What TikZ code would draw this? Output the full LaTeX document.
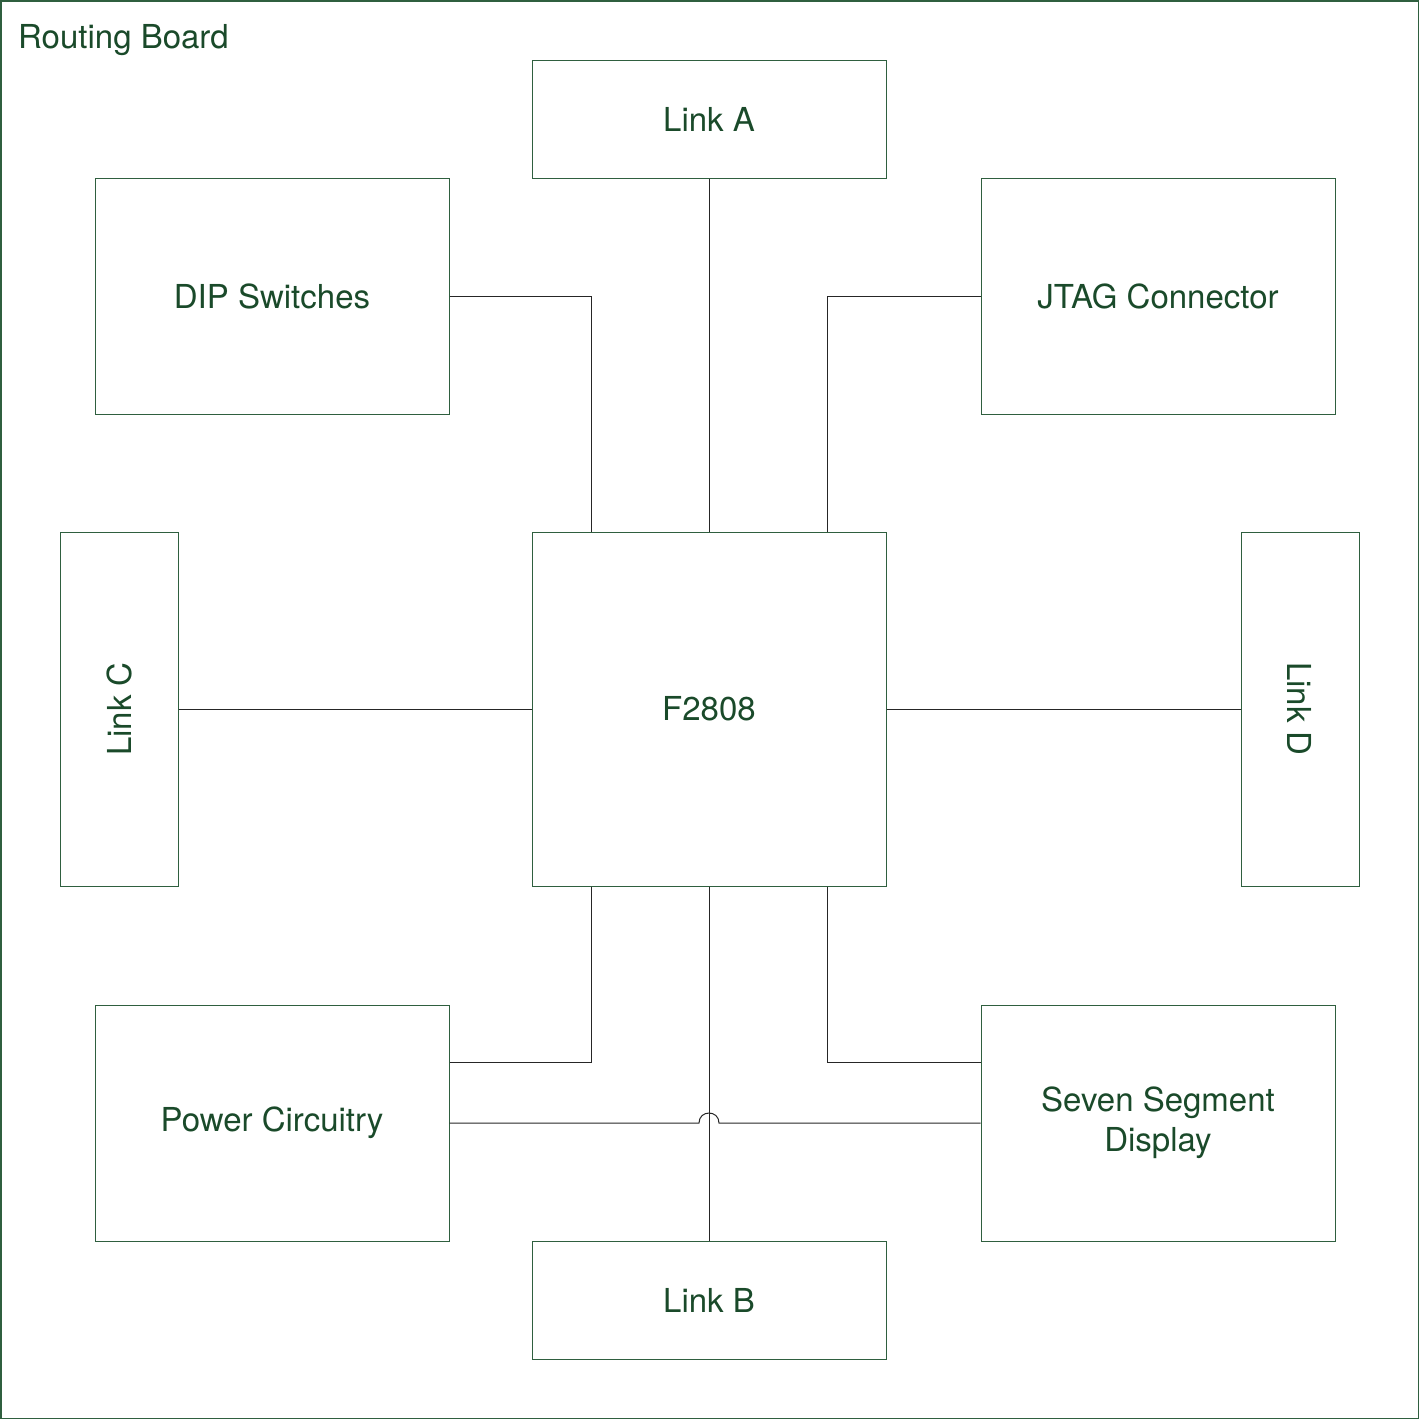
\documentclass[tikz,border=0pt]{standalone}
\usepackage{fontspec}
\usepackage{graphicx}
\setmainfont{TeX Gyre Heros}
\usetikzlibrary{calc}
\definecolor{txt}{HTML}{1A4A2A}
\definecolor{bd}{HTML}{2F5F3F}
\begin{document}
\begin{tikzpicture}[x=1pt,y=-1pt,
  blk/.style={draw=bd,line width=1pt,rectangle,inner sep=0pt,text=txt,
    font=\fontsize{33}{40}\selectfont,align=center},
  wide/.style={blk,minimum width=354pt,minimum height=236pt},
  flat/.style={blk,minimum width=354pt,minimum height=118pt},
  tall/.style={blk,minimum width=118pt,minimum height=354pt},
  wire/.style={draw=black!85,line width=1pt}]
\useasboundingbox (0,0) rectangle (1419,1419);
\draw[bd,line width=1.5pt] (0.75,0.75) rectangle (1418.25,1418.25);
\node[anchor=base west,inner sep=0pt,text=txt,font=\fontsize{33}{40}\selectfont] (title) at (18,48) {Routing Board};
\node[flat] (la) at (709,119) {Link A};
\node[wide] (dip) at (272,296) {DIP Switches};
\node[wide] (jt) at (1158,296) {JTAG Connector};
\node[tall] (lc) at (119,709) {\rotatebox{90}{Link C}};
\node[blk,minimum width=354pt,minimum height=354pt] (f) at (709,709) {F2808};
\node[tall] (ld) at (1300,709) {\rotatebox{-90}{Link D}};
\node[wide] (pw) at (272,1123) {Power Circuitry};
\node[wide] (ss) at (1158,1123) {Seven Segment\\Display};
\node[flat] (lb) at (709,1300) {Link B};
\draw[wire] (la.south) -- (f.north);
\draw[wire] (dip.east) -| ($(f.north)+(-118,0)$);
\draw[wire] (jt.west) -| ($(f.north)+(118,0)$);
\draw[wire] (lc.east) -- (f.west);
\draw[wire] (f.east) -- (ld.west);
\draw[wire] (f.south) -- (lb.north);
\draw[wire] ($(f.south)+(-118,0)$) |- ($(pw.north east)+(0,58)$);
\draw[wire] ($(f.south)+(118,0)$) |- ($(ss.north west)+(0,58)$);
\coordinate (j1) at ($(f.south |- pw.east)+(-10,0)$);
\coordinate (j2) at ($(f.south |- pw.east)+(10,0)$);
\draw[wire] (pw.east) -- (j1) .. controls ($(j1)+(0,-13.3)$) and ($(j2)+(0,-13.3)$) .. (j2) -- (ss.west);
\end{tikzpicture}
\end{document}
